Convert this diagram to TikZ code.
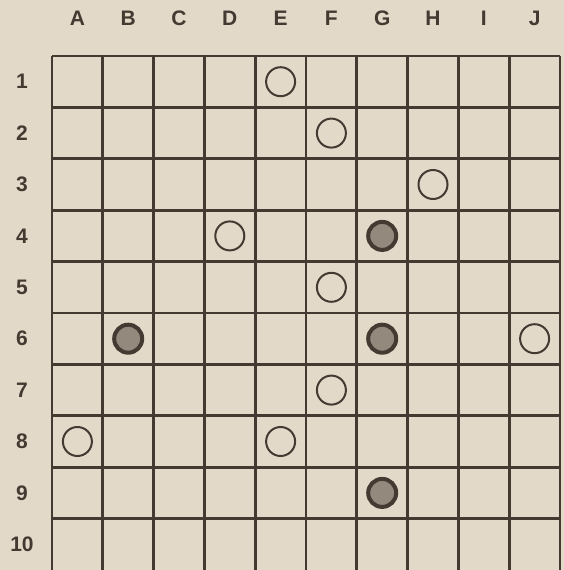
\documentclass[tikz,border=0pt]{standalone}
\usepackage{fontspec}
\setmainfont{Liberation Sans}
\begin{document}
\begin{tikzpicture}[x=1pt,y=-1pt,
  gridline/.style={draw=ink,line width=2.8pt},
  lab/.style={font=\bfseries\fontsize{21}{21}\selectfont,text=ink,inner sep=0pt},
  openpc/.style={circle,draw=ink,line width=2pt,minimum size=29pt,inner sep=0pt},
  fullpc/.style={circle,draw=ink,line width=4pt,fill=ink!50!paper,minimum size=28pt,inner sep=0pt}]
\definecolor{paper}{RGB}{226,217,200}
\definecolor{ink}{RGB}{68,58,50}
\useasboundingbox[fill=paper] (0,0) rectangle (564,570);
\def\xo{52}\def\yo{56}\def\cw{50.8}\def\ch{51.4}
% grid
\foreach \i in {0,...,10} {
  \coordinate (vt\i) at ({\xo+\cw*\i},\yo);
  \coordinate (vb\i) at ({\xo+\cw*\i},570);
  \draw[gridline] (vt\i) -- (vb\i);
}
\foreach \j in {0,...,9} {
  \coordinate (hl\j) at (\xo,{\yo+\ch*\j});
  \coordinate (hr\j) at ({\xo+\cw*10},{\yo+\ch*\j});
  \draw[gridline] (hl\j) -- (hr\j);
}
% column labels
\foreach \L [count=\i from 0] in {A,B,C,D,E,F,G,H,I,J}
  \node[lab] (col\L) at ({\xo+\cw*(\i+0.5)},18) {\L};
% row labels
\foreach \r in {1,...,10}
  \node[lab] (row\r) at (22,{\yo+\ch*(\r-0.5)}) {\r};
% pieces
\foreach \c/\r in {5/1,6/2,8/3,4/4,6/5,10/6,6/7,1/8,5/8}
  \node[openpc] (o\c-\r) at ({\xo+\cw*(\c-0.5)},{\yo+\ch*(\r-0.5)}) {};
\foreach \c/\r in {7/4,2/6,7/6,7/9}
  \node[fullpc] (f\c-\r) at ({\xo+\cw*(\c-0.5)},{\yo+\ch*(\r-0.5)}) {};
\end{tikzpicture}
\end{document}
